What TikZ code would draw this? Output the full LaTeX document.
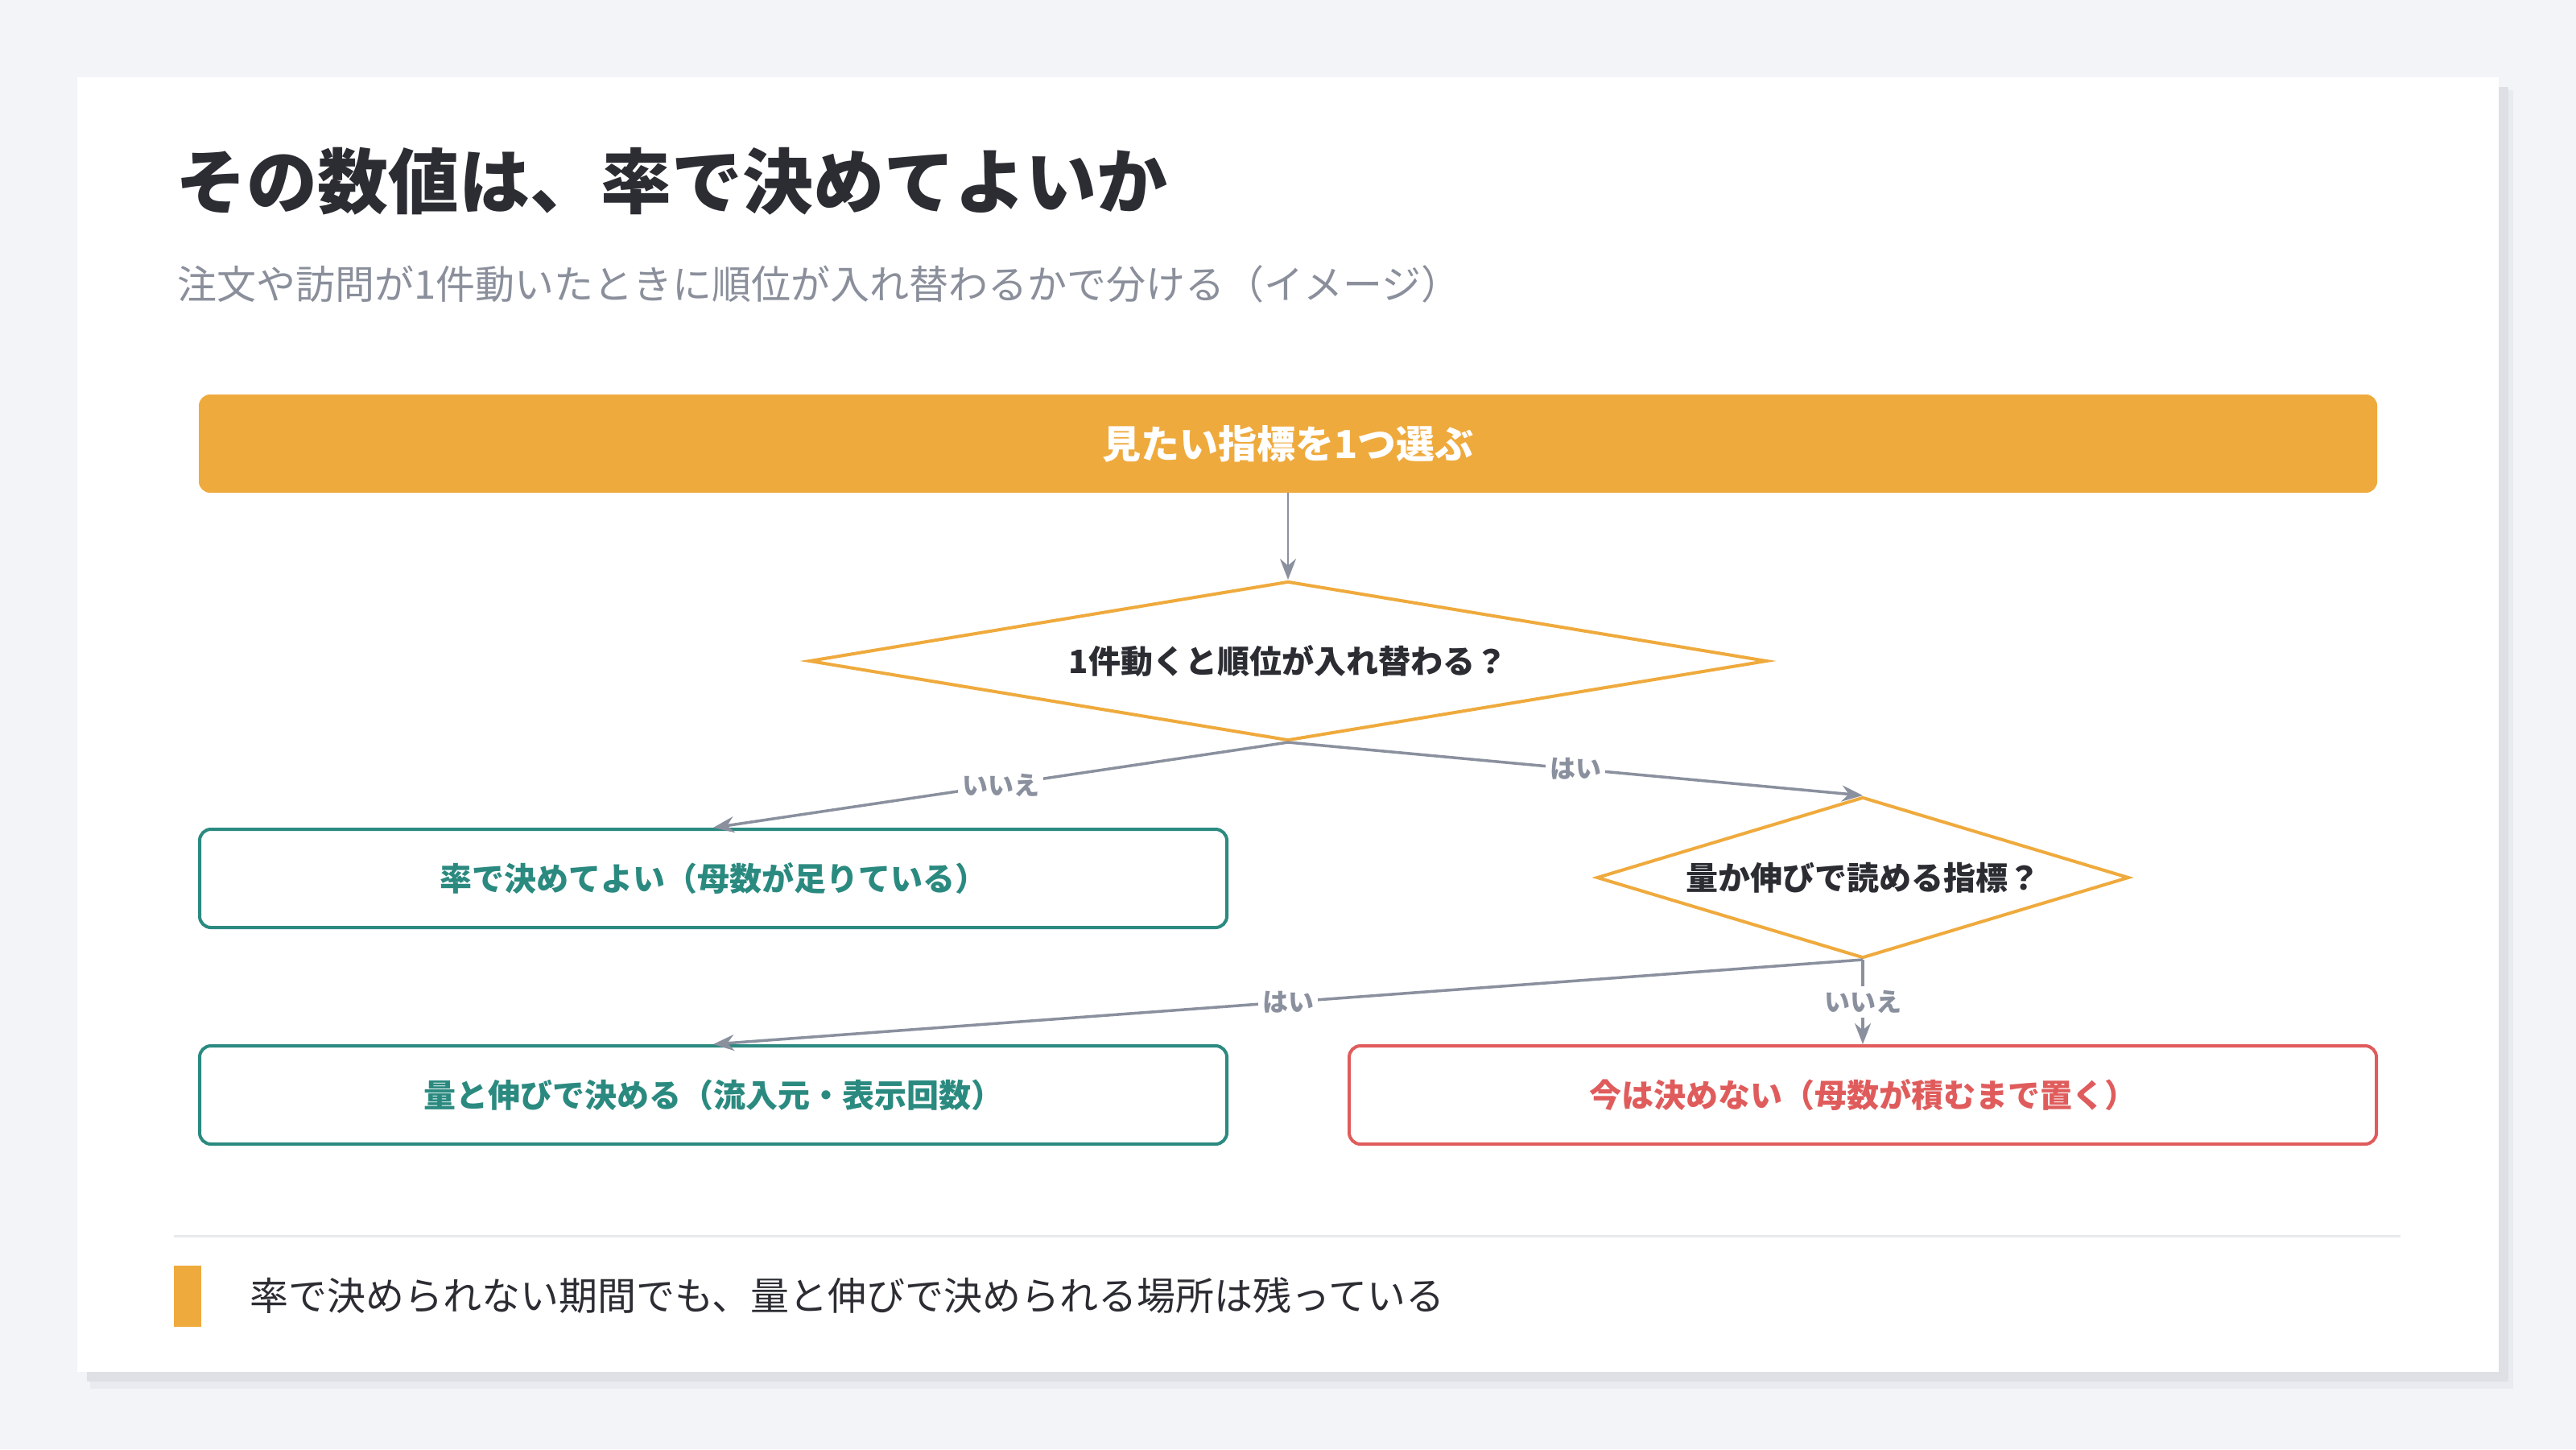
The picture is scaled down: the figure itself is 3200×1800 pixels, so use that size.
\documentclass[tikz,border=0pt]{standalone}
\usepackage{fontspec}
\setmainfont{Noto Sans CJK JP}
\usetikzlibrary{shapes.geometric,arrows.meta}
\definecolor{bgc}{HTML}{F3F4F8}
\definecolor{shadowa}{HTML}{DEE0E6}
\definecolor{shadowb}{HTML}{E9EBF0}
\definecolor{orng}{HTML}{EFAA3D}
\definecolor{tealc}{HTML}{2B8A80}
\definecolor{redc}{HTML}{E05C5C}
\definecolor{grayc}{HTML}{8A909E}
\definecolor{darkc}{HTML}{2B2D33}
\definecolor{subc}{HTML}{8A8F9B}
\definecolor{divc}{HTML}{E8EAEE}
\begin{document}
\begin{tikzpicture}[x=1pt,y=-1pt,
  topbox/.style={rectangle, rounded corners=14pt, fill=orng, text=white,
    font=\bfseries\fontsize{48}{54}\selectfont, minimum width=2706pt, minimum height=122pt, inner sep=0pt},
  dia/.style={diamond, draw=orng, line width=4pt, fill=white, text=darkc,
    font=\bfseries\fontsize{40}{46}\selectfont, inner sep=0pt},
  okbox/.style={rectangle, rounded corners=14pt, draw=tealc, line width=4pt, fill=white, text=tealc,
    font=\bfseries\fontsize{40}{46}\selectfont, minimum width=1276pt, minimum height=122pt, inner sep=0pt},
  ngbox/.style={okbox, draw=redc, text=redc},
  conn/.style={draw=grayc, line width=3.5pt, -{Stealth[length=26pt,width=20pt]}},
  lbl/.style={fill=white, text=grayc, font=\bfseries\fontsize{32}{36}\selectfont, inner sep=5pt}
]
\useasboundingbox (0,0) rectangle (3200,1800);
\fill[bgc] (0,0) rectangle (3200,1800);
\fill[shadowb] (112,112) rectangle (3122,1725);
\fill[shadowa] (108,108) rectangle (3116,1716);
\fill[white] (96,96) rectangle (3104,1704);

\node[anchor=west, inner sep=0pt, text=darkc, font=\bfseries\fontsize{88}{98}\selectfont] (title) at (218,225) {その数値は、率で決めてよいか};
\node[anchor=west, inner sep=0pt, text=subc, font=\fontsize{49}{55}\selectfont] (sub) at (220,353) {注文や訪問が1件動いたときに順位が入れ替わるかで分ける（イメージ）};

\node[topbox] (start) at (1600,551) {見たい指標を1つ選ぶ};
\node[dia, aspect=6, minimum width=1190pt, minimum height=198pt] (q1) at (1600,821) {1件動くと順位が入れ替わる？};
\node[okbox] (r1) at (886,1091) {率で決めてよい（母数が足りている）};
\node[dia, aspect=3.3, minimum width=661pt, minimum height=200pt] (q2) at (2314,1090) {量か伸びで読める指標？};
\node[okbox] (r2) at (886,1360) {量と伸びで決める（流入元・表示回数）};
\node[ngbox] (r3) at (2314,1360) {今は決めない（母数が積むまで置く）};

\draw[conn, line width=2.5pt] (start.south) -- (q1.north);
\draw[conn] (q1.south) -- node[lbl] {いいえ} (r1.north);
\draw[conn] (q1.south) -- node[lbl] {はい} (q2.north);
\draw[conn] (q2.south) -- node[lbl] {はい} (r2.north);
\draw[conn] (q2.south) -- node[lbl] {いいえ} (r3.north);

\draw[divc, line width=3pt] (216,1535) -- (2982,1535);
\fill[orng] (216,1572) rectangle (250,1648);
\node[anchor=west, inner sep=0pt, text=darkc, font=\fontsize{48}{54}\selectfont] (foot) at (310,1609) {率で決められない期間でも、量と伸びで決められる場所は残っている};
\end{tikzpicture}
\end{document}
